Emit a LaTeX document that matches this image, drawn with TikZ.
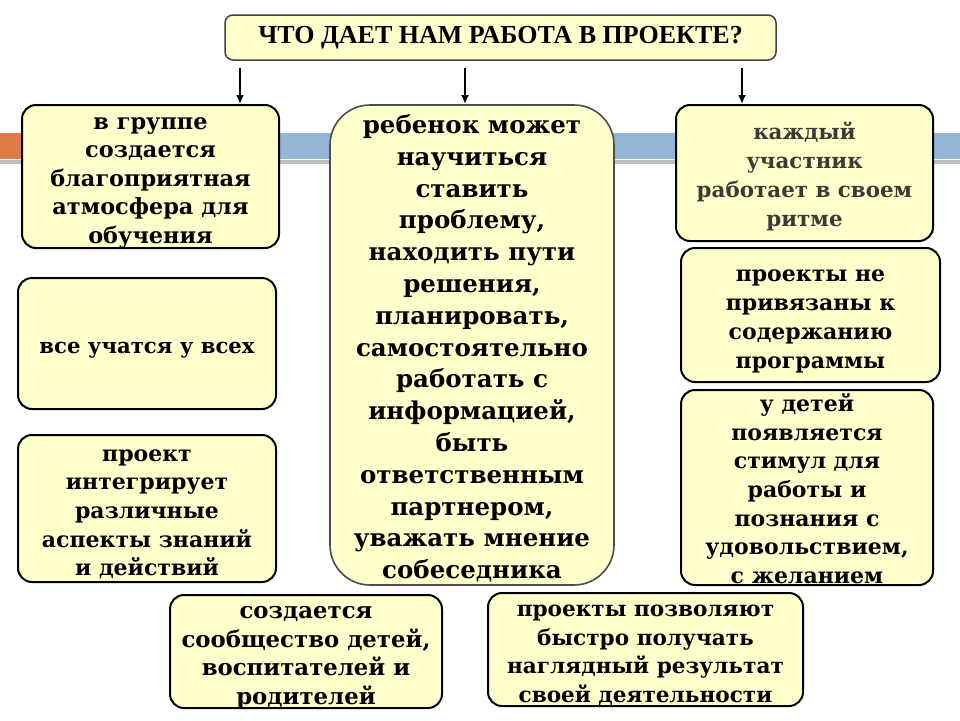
\documentclass[tikz,border=0pt]{standalone}
\usepackage{fontspec}
\setmainfont{DejaVu Serif}
\newfontfamily\headfont{Liberation Serif}
\usetikzlibrary{arrows.meta}
\definecolor{boxfill}{HTML}{FFFFCC}
\definecolor{barorange}{HTML}{DD7A45}
\definecolor{barblue}{HTML}{94B6D6}
\definecolor{bargrey}{HTML}{BDBDBD}
\definecolor{dimtext}{HTML}{3D3A33}
% fixed-size text block: width, height, lines
\newcommand{\boxtext}[3]{\parbox[c][#2][c]{#1}{\centering\rule{0pt}{\baselineskip}#3\strut}}

\begin{document}
\begin{tikzpicture}[x=1pt, y=-1pt, align=center]
\tikzstyle{box} = [draw=black, line width=2pt, fill=boxfill, rounded corners=14pt, inner sep=0pt, font=\bfseries\fontsize{22}{28.7}\selectfont]
\tikzstyle{e} = [draw=black, line width=2pt, -{Latex[length=9pt,width=8pt]}]

\useasboundingbox (0,0) rectangle (960,720);
% background strip
\fill[barblue] (0,133) rectangle (960,159);
\fill[barorange] (0,133) rectangle (40,159);
\fill[bargrey] (0,160) rectangle (960,164);

\node[box, draw=black!75, line width=1.5pt, rounded corners=8pt, minimum width=551pt, minimum height=45pt, font=\headfont\bfseries\fontsize{26}{28}\selectfont] (title) at (500.5,37.5) {ЧТО ДАЕТ НАМ РАБОТА В ПРОЕКТЕ?};

\node[box, font=\bfseries\fontsize{22.4}{28.5}\selectfont] (group) at (150.5,176.5) {\boxtext{257pt}{143pt}{в группе\\создается\\благоприятная\\атмосфера для\\обучения}};
\node[box, font=\bfseries\fontsize{21.2}{28.7}\selectfont] (all) at (147,343.5) {\boxtext{258pt}{131pt}{все учатся у всех}};
\node[box] (integr) at (147,508.5) {\boxtext{258pt}{147pt}{проект\\интегрирует\\различные\\аспекты знаний\\и действий}};

\node[box, draw=black!70, line width=1.6pt, rounded corners=40pt, font=\bfseries\fontsize{24.5}{31.8}\selectfont] (child) at (472,345) {\boxtext{284pt}{480pt}{ребенок может\\научиться\\ставить\\проблему,\\находить пути\\решения,\\планировать,\\самостоятельно\\работать с\\информацией,\\быть\\ответственным\\партнером,\\уважать мнение\\собеседника}};

\node[box, text=dimtext, font=\bfseries\fontsize{21.4}{29}\selectfont] (rhythm) at (804.5,173) {\boxtext{257pt}{136pt}{каждый\\участник\\работает в своем\\ритме}};
\node[box, font=\bfseries\fontsize{22}{29}\selectfont] (free) at (810.5,315) {\boxtext{259pt}{134pt}{проекты не\\привязаны к\\содержанию\\программы}};
\node[box] (stimul) at (807,487.5) {\boxtext{252pt}{195pt}{у детей\\появляется\\стимул для\\работы и\\познания с\\удовольствием,\\с желанием}};

\node[box, font=\bfseries\fontsize{22.8}{28.5}\selectfont] (commun) at (306,651.5) {\boxtext{272pt}{113pt}{создается\\сообщество детей,\\воспитателей и\\родителей}};
\node[box, font=\bfseries\fontsize{21.6}{28.7}\selectfont] (result) at (645.5,649.5) {\boxtext{315pt}{113pt}{проекты позволяют\\быстро получать\\наглядный результат\\своей деятельности}};

\coordinate (a1) at (240,104);
\coordinate (a2) at (465,104);
\coordinate (a3) at (742,104);
\draw[e] ([yshift=-7pt]title.south -| a1) to (a1);
\draw[e] ([yshift=-7pt]title.south -| a2) to (a2);
\draw[e] ([yshift=-7pt]title.south -| a3) to (a3);
\end{tikzpicture}
\end{document}
